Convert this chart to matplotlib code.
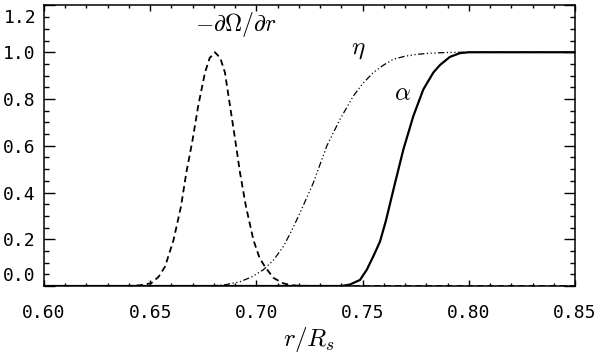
import matplotlib
matplotlib.use("Agg")
import matplotlib.pyplot as plt
from matplotlib.ticker import MultipleLocator, FormatStrFormatter, FuncFormatter

plt.rcParams["mathtext.fontset"] = "cm"

# -dOmega/dr (dashed)
shear_r = [0.600, 0.640, 0.645, 0.6505, 0.654, 0.657, 0.661, 0.6645, 0.667,
           0.670, 0.6726, 0.6758, 0.678, 0.6805, 0.683, 0.6852, 0.6876,
           0.690, 0.6923, 0.6951, 0.6986, 0.7015, 0.704, 0.708, 0.7125,
           0.716, 0.720, 0.730, 0.850]
shear_v = [0.0, 0.0, 0.003, 0.012, 0.040, 0.083, 0.197, 0.340, 0.484,
           0.627, 0.770, 0.913, 0.975, 1.000, 0.975, 0.913, 0.770,
           0.627, 0.484, 0.340, 0.197, 0.120, 0.083, 0.035, 0.012,
           0.004, 0.001, 0.0, 0.0]

# eta (dash-dot)
eta_r = [0.600, 0.678, 0.685, 0.6923, 0.698, 0.7032, 0.708, 0.7127, 0.7165,
         0.7205, 0.7268, 0.7331, 0.7393, 0.7456, 0.7500, 0.7550, 0.7600,
         0.7645, 0.7700, 0.7755, 0.7820, 0.7900, 0.800, 0.850]
eta_v = [0.0, 0.0, 0.005, 0.018, 0.040, 0.069, 0.110, 0.169, 0.235,
         0.312, 0.441, 0.598, 0.712, 0.812, 0.865, 0.913, 0.946,
         0.970, 0.983, 0.991, 0.996, 0.999, 1.0, 1.0]

# alpha (solid)
alpha_r = [0.600, 0.740, 0.7440, 0.7488, 0.7520, 0.7550, 0.7582, 0.7610,
           0.7650, 0.7692, 0.7739, 0.7786, 0.7833, 0.7864, 0.7911, 0.7958,
           0.800, 0.850]
alpha_v = [0.0, 0.0, 0.006, 0.026, 0.070, 0.126, 0.190, 0.280,
           0.430, 0.584, 0.727, 0.841, 0.913, 0.945, 0.980, 0.996,
           1.0, 1.0]

YMIN, YMAX = 0.0, 1.2

fig = plt.figure(figsize=(6.0, 3.56), dpi=100)
ax = fig.add_axes([0.0733, 0.1966, 0.8850, 0.7880])

ax.plot(shear_r, shear_v, color="black", lw=1.3, dashes=(3.5, 2.2))
ax.plot(eta_r, eta_v, color="black", lw=0.9,
        dashes=(5, 2, 1, 2, 1, 2, 1, 2))
ax.plot(alpha_r, alpha_v, color="black", lw=1.6)

ax.set_xlim(0.60, 0.85)
ax.set_ylim(YMIN, YMAX)

ax.xaxis.set_major_locator(MultipleLocator(0.05))
ax.xaxis.set_minor_locator(MultipleLocator(0.01))
ax.yaxis.set_major_locator(MultipleLocator(0.2))
ax.yaxis.set_minor_locator(MultipleLocator(0.05))
ax.xaxis.set_major_formatter(FormatStrFormatter("%.2f"))


# end labels are drawn separately, nudged inside the frame
def ylab(v, pos):
    if abs(v - YMIN) < 1e-6 or abs(v - YMAX) < 1e-6:
        return ""
    return "%.1f" % v


ax.yaxis.set_major_formatter(FuncFormatter(ylab))

ax.tick_params(which="both", direction="in", top=True, right=True,
               width=1.0)
ax.tick_params(axis="y", which="major", length=7.6, pad=6)
ax.tick_params(axis="y", which="minor", length=3.8)
ax.tick_params(axis="x", which="major", length=4.0, pad=13)
ax.tick_params(axis="x", which="minor", length=2.0)

tick_font = dict(fontfamily="DejaVu Sans Mono", fontsize=13)
for lab in ax.get_xticklabels() + ax.get_yticklabels():
    lab.set_fontfamily(tick_font["fontfamily"])
    lab.set_fontsize(tick_font["fontsize"])

for v, dy in [(YMIN, 12), (YMAX, -11)]:
    ax.annotate("%.1f" % v, xy=(0, v), xycoords=("axes fraction", "data"),
                xytext=(-8, dy), textcoords="offset pixels",
                ha="right", va="center_baseline", **tick_font)

for sp in ax.spines.values():
    sp.set_linewidth(1.1)

ax.set_xlabel(r"$r/R_s$", fontsize=18, labelpad=2)

ax.text(0.6904, 1.12, r"$-\partial\Omega/\partial r$", fontsize=17,
        ha="center", va="center")
ax.text(0.7478, 1.013, r"$\eta$", fontsize=18, ha="center", va="center")
ax.text(0.7686, 0.824, r"$\alpha$", fontsize=18, ha="center", va="center")

fig.savefig("out.png", dpi=100)
